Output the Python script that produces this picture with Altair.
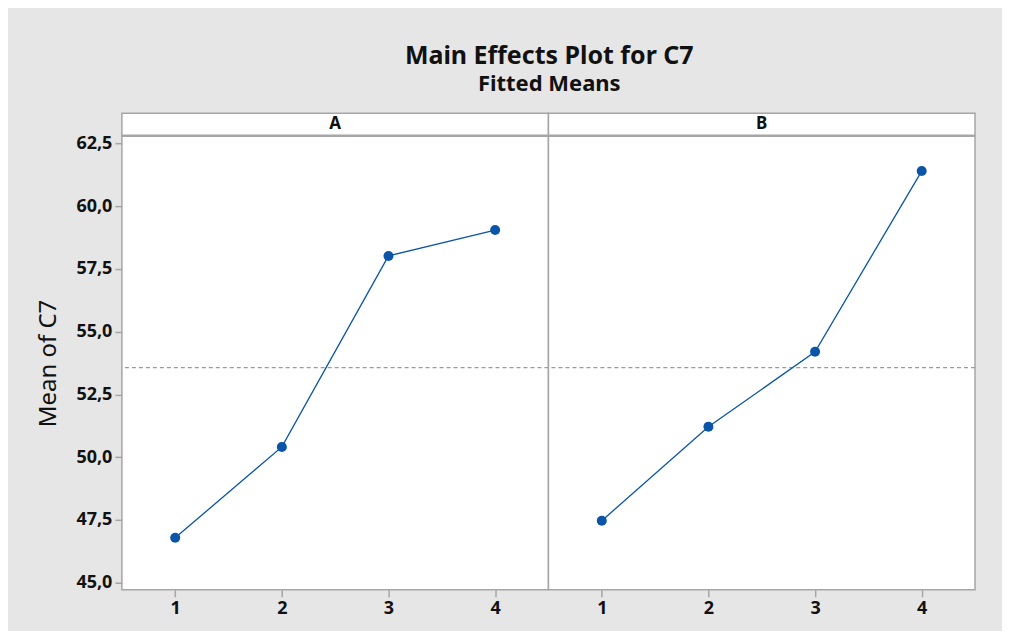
import altair as alt
import pandas as pd

# ---- data ----
factors = ["A", "B"]
levels = [1, 2, 3, 4]
means_A = [46.79, 50.41, 58.02, 59.05]
means_B = [47.47, 51.21, 54.20, 61.40]
grand_mean = [53.57]
y_ticks = [45.0, 47.5, 50.0, 52.5, 55.0, 57.5, 60.0, 62.5]

BLUE = "#0a55a8"
BORDER = "#a6a6a6"
FONT = "Noto Sans"
PW, PH, HH = 427, 454, 22

xscale = alt.Scale(domain=[0.5, 4.5], nice=False, zero=False)
yscale = alt.Scale(domain=[44.72, 62.79], nice=False, zero=False)

xaxis = alt.Axis(values=levels, format="d", title=None, domain=False,
                 grid=False, tickSize=7, tickColor=BORDER, tickWidth=1.5,
                 labelPadding=3, labelFontSize=18, labelFontWeight="bold",
                 labelColor="#111111", labelFont=FONT)


def plot_panel(vals, show_y):
    df = pd.DataFrame({"level": levels, "mean": vals})
    if show_y:
        yaxis = alt.Axis(values=y_ticks, title="Mean of C7", domain=False,
                         grid=False, tickSize=7, tickColor=BORDER,
                         tickWidth=1.5, labelPadding=3, labelFontSize=18,
                         labelFontWeight="bold", labelColor="#111111",
                         labelFont=FONT,
                         labelExpr="replace(format(datum.value, '.1f'), '.', ',')",
                         titleFont=FONT, titleFontSize=24,
                         titleFontWeight="normal", titleColor="#111111",
                         titlePadding=15)
    else:
        yaxis = None
    base = alt.Chart(df).encode(
        x=alt.X("level:Q", scale=xscale, axis=xaxis),
        y=alt.Y("mean:Q", scale=yscale, axis=yaxis),
    )
    line = base.mark_line(color=BLUE, strokeWidth=1.3)
    pts = base.mark_circle(color=BLUE, size=100, opacity=1)
    rule = alt.Chart(pd.DataFrame({"m": grand_mean})).mark_rule(
        color="#9a9a9a", strokeDash=[4, 3], strokeWidth=1.2
    ).encode(y=alt.Y("m:Q", scale=yscale, axis=yaxis))
    return alt.layer(rule, line, pts).properties(width=PW, height=PH)


def header(name):
    return alt.Chart(pd.DataFrame({"f": [name]})).mark_text(
        font=FONT, fontSize=17, fontWeight="bold", color="#111111",
        baseline="middle", align="center"
    ).encode(text="f:N", x=alt.value(PW / 2), y=alt.value(HH / 2)).properties(
        width=PW, height=HH)


headers = alt.hconcat(header(factors[0]), header(factors[1]),
                      spacing=0, bounds="flush")
plots = alt.hconcat(plot_panel(means_A, True), plot_panel(means_B, False),
                    spacing=0, bounds="flush")

chart = alt.vconcat(headers, plots, spacing=-4).properties(
    title=alt.TitleParams(
        text="Main Effects Plot for C7",
        subtitle="Fitted Means",
        font=FONT, fontSize=25, fontWeight="bold", color="#111111",
        subtitleFont=FONT, subtitleFontSize=22, subtitleFontWeight="bold",
        subtitleColor="#111111", subtitlePadding=6,
        anchor="middle", offset=17, dx=43,
    ),
    background="#e6e6e6",
    padding={"left": 28, "top": 35, "right": 25, "bottom": 12},
).configure_view(
    stroke=BORDER, strokeWidth=1.5, fill="white"
)

chart.save("out.html", embed_options={"renderer": "svg", "actions": False})
